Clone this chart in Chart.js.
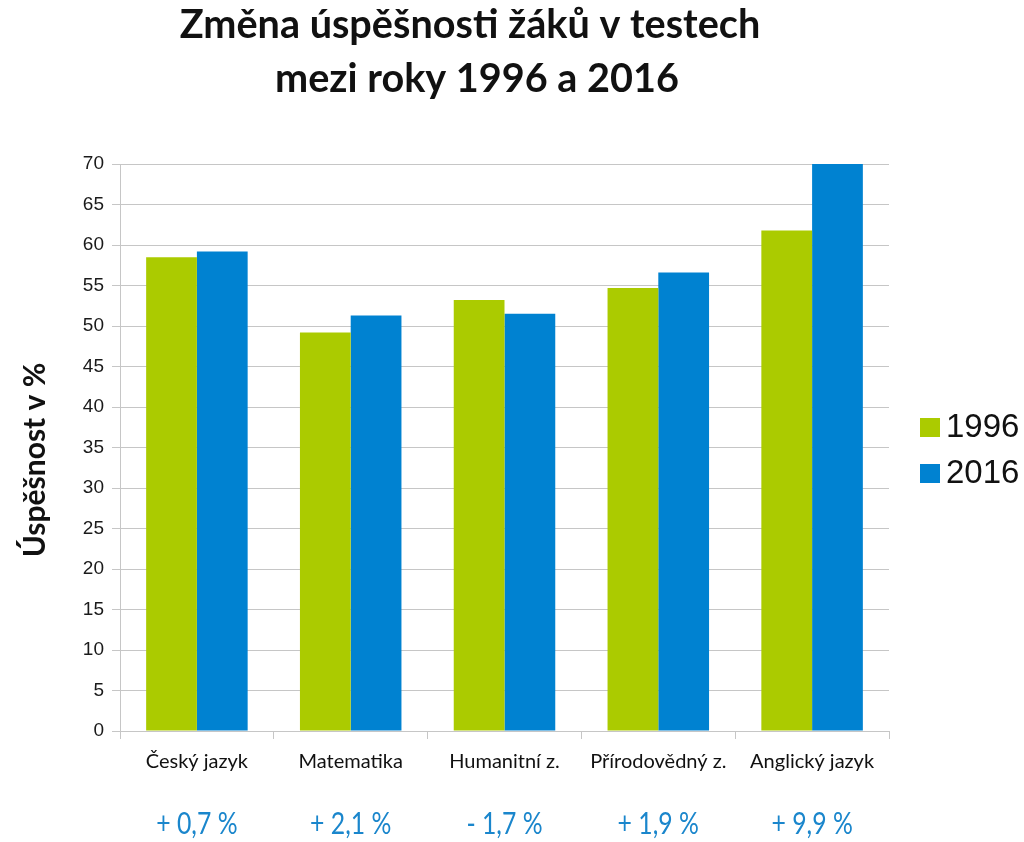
<!DOCTYPE html>
<html>
<head>
<meta charset="utf-8">
<script src="https://cdn.jsdelivr.net/npm/chart.js@4"></script>
<style>
  body { margin: 0; background: #ffffff; }
  #wrap { width: 1024px; height: 842px; position: relative; }
</style>
</head>
<body>
<div id="wrap"><canvas id="barChart"></canvas></div>
<script>
const categories = ["Český jazyk", "Matematika", "Humanitní z.", "Přírodovědný z.", "Anglický jazyk"];
const values1996 = [58.5, 49.2, 53.2, 54.7, 61.8];
const values2016 = [59.2, 51.3, 51.5, 56.6, 71.7];
const changeLabels = ["+ 0,7 %", "+ 2,1 %", "- 1,7 %", "+ 1,9 %", "+ 9,9 %"];
const seriesNames = ["1996", "2016"];
const titleLines = ["Změna úspěšnosti žáků v testech", "mezi roky 1996 a 2016"];
const yTitle = "Úspěšnost v %";

const green = "#abcb00";
const blue = "#0082d1";
const gridColor = "#c6c6c6";

// text squeezed sideways, the original font is narrower than Lato
function narrowText(ctx, text, x, y, squeeze) {
  ctx.save();
  ctx.translate(x, y);
  ctx.scale(squeeze, 1);
  ctx.fillText(text, 0, 0);
  ctx.restore();
}

// draws title, y axis title, legend and the change labels under the axis
const decorPlugin = {
  id: "decor",
  afterDraw: function (chart) {
    const ctx = chart.ctx;
    const xScale = chart.scales.x;
    ctx.save();

    ctx.fillStyle = "#111111";
    ctx.textAlign = "center";
    ctx.textBaseline = "alphabetic";
    ctx.font = "bold 40px Lato";
    narrowText(ctx, titleLines[0], 470, 38, 0.99);
    narrowText(ctx, titleLines[1], 477, 92, 0.99);

    ctx.save();
    ctx.translate(45, 460);
    ctx.rotate(-Math.PI / 2);
    ctx.font = "bold 30px Lato";
    ctx.fillText(yTitle, 0, 0);
    ctx.restore();

    const colors = [green, blue];
    ctx.textAlign = "left";
    ctx.textBaseline = "middle";
    ctx.font = "33px 'Liberation Sans'";
    for (let i = 0; i < seriesNames.length; i++) {
      const y = 427 + i * 46;
      ctx.fillStyle = colors[i];
      ctx.fillRect(920, y - 9, 20, 19);
      ctx.fillStyle = "#111111";
      ctx.fillText(seriesNames[i], 946, y + 1);
    }

    ctx.fillStyle = "#1a86cc";
    ctx.textAlign = "center";
    ctx.font = "31px Lato";
    for (let i = 0; i < changeLabels.length; i++) {
      narrowText(ctx, changeLabels[i], xScale.getPixelForValue(i), 824, 0.8);
    }
    ctx.restore();
  }
};

const chart = new Chart(document.getElementById("barChart"), {
  type: "bar",
  data: {
    labels: categories,
    datasets: [
      {
        label: seriesNames[0],
        data: values1996,
        backgroundColor: green,
        clip: 0
      },
      {
        label: seriesNames[1],
        data: values2016,
        backgroundColor: blue,
        clip: 0
      }
    ]
  },
  plugins: [decorPlugin],
  options: {
    responsive: true,
    maintainAspectRatio: false,
    animation: false,
    layout: {
      padding: { top: 164, right: 135, left: 0, bottom: 0 }
    },
    datasets: {
      bar: {
        categoryPercentage: 0.66,
        barPercentage: 1
      }
    },
    plugins: {
      legend: { display: false },
      title: { display: false },
      tooltip: { enabled: false }
    },
    scales: {
      x: {
        afterFit: function (scale) {
          scale.height = 111;
        },
        grid: {
          offset: true,
          tickLength: 8,
          tickColor: gridColor,
          color: function (c) {
            return c.index === categories.length ? gridColor : "transparent";
          }
        },
        border: { color: gridColor },
        ticks: {
          color: "#111111",
          padding: 11,
          font: { family: "Lato", size: 20 },
          maxRotation: 0
        }
      },
      y: {
        min: 0,
        max: 70,
        afterFit: function (scale) {
          scale.width = 120;
        },
        grid: {
          color: gridColor,
          tickLength: 8
        },
        border: { color: gridColor },
        ticks: {
          stepSize: 5,
          color: "#1a1a1a",
          padding: 8,
          font: { family: "Liberation Sans", size: 19 }
        }
      }
    }
  }
});
</script>
</body>
</html>
